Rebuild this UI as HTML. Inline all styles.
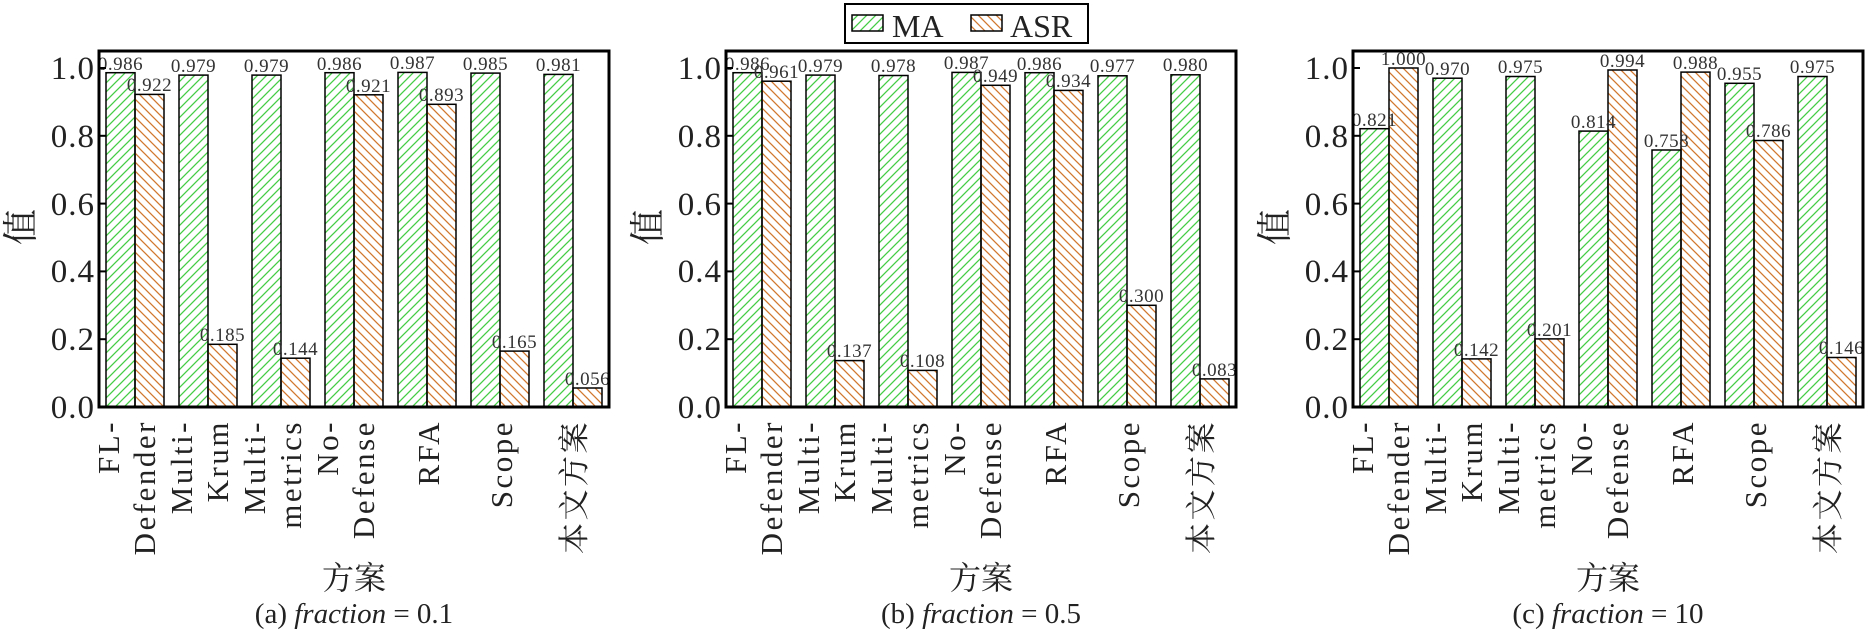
<!DOCTYPE html>
<html><head><meta charset="utf-8"><style>
html,body{margin:0;padding:0;background:#fff;}
svg{display:block;}
text{font-family:"Liberation Serif","Noto Serif CJK SC",serif;fill:#222;}
.v{font-size:19px;fill:#333;text-anchor:middle;letter-spacing:0.5px;}
.t{font-size:33px;text-anchor:end;letter-spacing:1px;}
.x{font-size:31px;text-anchor:end;letter-spacing:2.5px;}
.cj{font-family:"Liberation Serif","Noto Serif CJK SC",serif;}
</style></head><body>
<svg width="1871" height="630" viewBox="0 0 1871 630" xmlns="http://www.w3.org/2000/svg">
<defs>
<pattern id="g" patternUnits="userSpaceOnUse" width="9" height="9"><path d="M-1,1 l2,-2 M0,9 l9,-9 M8,10 l2,-2" stroke="#44cc44" stroke-width="1.3"/></pattern>
<pattern id="o" patternUnits="userSpaceOnUse" width="9" height="9"><path d="M-1,8 l2,2 M0,0 l9,9 M8,-1 l2,2" stroke="#d2782f" stroke-width="1.3"/></pattern>
<g id="ax">
<g stroke="#000" stroke-width="2"><line x1="0" y1="407" x2="7" y2="407"/><line x1="0" y1="339.2" x2="7" y2="339.2"/><line x1="0" y1="271.4" x2="7" y2="271.4"/><line x1="0" y1="203.6" x2="7" y2="203.6"/><line x1="0" y1="135.8" x2="7" y2="135.8"/><line x1="0" y1="68" x2="7" y2="68"/></g>
<text class="t" x="-4" y="418">0.0</text><text class="t" x="-4" y="350">0.2</text><text class="t" x="-4" y="282">0.4</text><text class="t" x="-4" y="215">0.6</text><text class="t" x="-4" y="147">0.8</text><text class="t" x="-4" y="79">1.0</text>
<text class="cj" font-size="36" transform="translate(-66,227) rotate(-90)" text-anchor="middle">值</text>
<text class="x" transform="translate(20,420) rotate(-90)">FL-</text><text class="x" transform="translate(56,420) rotate(-90)">Defender</text>
<text class="x" transform="translate(93,420) rotate(-90)">Multi-</text><text class="x" transform="translate(129,420) rotate(-90)">Krum</text>
<text class="x" transform="translate(166,420) rotate(-90)">Multi-</text><text class="x" transform="translate(202,420) rotate(-90)">metrics</text>
<text class="x" transform="translate(239,420) rotate(-90)">No-</text><text class="x" transform="translate(275,420) rotate(-90)">Defense</text>
<text class="x" transform="translate(340,420) rotate(-90)">RFA</text>
<text class="x" transform="translate(413,420) rotate(-90)">Scope</text>
<text class="x cj" transform="translate(486,420) rotate(-90)">本文方案</text>
<text class="cj" font-size="32" x="255" y="589" text-anchor="middle">方案</text>
</g>
</defs>

<!-- legend -->
<rect x="845" y="4" width="243" height="39" fill="#fff" stroke="#000" stroke-width="2"/>
<rect x="852" y="15" width="31" height="16" fill="url(#g)" stroke="#000" stroke-width="1.5"/>
<text x="892" y="37" font-size="32">MA</text>
<rect x="971" y="15" width="31" height="16" fill="url(#o)" stroke="#000" stroke-width="1.5"/>
<text x="1010" y="37" font-size="32">ASR</text>

<!-- panel a -->
<g transform="translate(99,0)">
<g stroke="#000" stroke-width="1.5">
<rect x="7" y="72.7" width="29" height="334.3" fill="url(#g)"/><rect x="36" y="94.4" width="29" height="312.6" fill="url(#o)"/>
<rect x="80" y="75.1" width="29" height="331.9" fill="url(#g)"/><rect x="109" y="344.3" width="29" height="62.7" fill="url(#o)"/>
<rect x="153" y="75.1" width="29" height="331.9" fill="url(#g)"/><rect x="182" y="358.2" width="29" height="48.8" fill="url(#o)"/>
<rect x="226" y="72.7" width="29" height="334.3" fill="url(#g)"/><rect x="255" y="94.8" width="29" height="312.2" fill="url(#o)"/>
<rect x="299" y="72.4" width="29" height="334.6" fill="url(#g)"/><rect x="328" y="104.3" width="29" height="302.7" fill="url(#o)"/>
<rect x="372" y="73.1" width="29" height="333.9" fill="url(#g)"/><rect x="401" y="351.1" width="29" height="55.9" fill="url(#o)"/>
<rect x="445" y="74.4" width="29" height="332.6" fill="url(#g)"/><rect x="474" y="388" width="29" height="19" fill="url(#o)"/>
</g>
<text class="v" x="21.5" y="70">0.986</text><text class="v" x="50.5" y="91">0.922</text>
<text class="v" x="94.5" y="72">0.979</text><text class="v" x="123.5" y="341">0.185</text>
<text class="v" x="167.5" y="72">0.979</text><text class="v" x="196.5" y="355">0.144</text>
<text class="v" x="240.5" y="70">0.986</text><text class="v" x="269.5" y="92">0.921</text>
<text class="v" x="313.5" y="69">0.987</text><text class="v" x="342.5" y="101">0.893</text>
<text class="v" x="386.5" y="70">0.985</text><text class="v" x="415.5" y="348">0.165</text>
<text class="v" x="459.5" y="71">0.981</text><text class="v" x="488.5" y="385">0.056</text>
<rect x="0" y="51" width="510" height="356" fill="none" stroke="#000" stroke-width="3"/>
<use href="#ax"/>
<text x="255" y="623" font-size="29" text-anchor="middle">(a) <tspan font-style="italic">fraction</tspan> = 0.1</text>
</g>

<!-- panel b -->
<g transform="translate(726,0)">
<g stroke="#000" stroke-width="1.5">
<rect x="7" y="72.7" width="29" height="334.3" fill="url(#g)"/><rect x="36" y="81.2" width="29" height="325.8" fill="url(#o)"/>
<rect x="80" y="75.1" width="29" height="331.9" fill="url(#g)"/><rect x="109" y="360.6" width="29" height="46.4" fill="url(#o)"/>
<rect x="153" y="75.5" width="29" height="331.5" fill="url(#g)"/><rect x="182" y="370.4" width="29" height="36.6" fill="url(#o)"/>
<rect x="226" y="72.4" width="29" height="334.6" fill="url(#g)"/><rect x="255" y="85.3" width="29" height="321.7" fill="url(#o)"/>
<rect x="299" y="72.7" width="29" height="334.3" fill="url(#g)"/><rect x="328" y="90.4" width="29" height="316.6" fill="url(#o)"/>
<rect x="372" y="75.8" width="29" height="331.2" fill="url(#g)"/><rect x="401" y="305.3" width="29" height="101.7" fill="url(#o)"/>
<rect x="445" y="74.8" width="29" height="332.2" fill="url(#g)"/><rect x="474" y="378.9" width="29" height="28.1" fill="url(#o)"/>
</g>
<text class="v" x="21.5" y="70">0.986</text><text class="v" x="50.5" y="78">0.961</text>
<text class="v" x="94.5" y="72">0.979</text><text class="v" x="123.5" y="357">0.137</text>
<text class="v" x="167.5" y="72">0.978</text><text class="v" x="196.5" y="367">0.108</text>
<text class="v" x="240.5" y="69">0.987</text><text class="v" x="269.5" y="82">0.949</text>
<text class="v" x="313.5" y="70">0.986</text><text class="v" x="342.5" y="87">0.934</text>
<text class="v" x="386.5" y="72">0.977</text><text class="v" x="415.5" y="302">0.300</text>
<text class="v" x="459.5" y="71">0.980</text><text class="v" x="488.5" y="376">0.083</text>
<rect x="0" y="51" width="510" height="356" fill="none" stroke="#000" stroke-width="3"/>
<use href="#ax"/>
<text x="255" y="623" font-size="29" text-anchor="middle">(b) <tspan font-style="italic">fraction</tspan> = 0.5</text>
</g>

<!-- panel c -->
<g transform="translate(1353,0)">
<g stroke="#000" stroke-width="1.5">
<rect x="7" y="128.7" width="29" height="278.3" fill="url(#g)"/><rect x="36" y="68" width="29" height="339" fill="url(#o)"/>
<rect x="80" y="78.2" width="29" height="328.8" fill="url(#g)"/><rect x="109" y="358.9" width="29" height="48.1" fill="url(#o)"/>
<rect x="153" y="76.5" width="29" height="330.5" fill="url(#g)"/><rect x="182" y="338.9" width="29" height="68.1" fill="url(#o)"/>
<rect x="226" y="131.1" width="29" height="275.9" fill="url(#g)"/><rect x="255" y="70" width="29" height="337" fill="url(#o)"/>
<rect x="299" y="150" width="29" height="257" fill="url(#g)"/><rect x="328" y="72.1" width="29" height="334.9" fill="url(#o)"/>
<rect x="372" y="83.3" width="29" height="323.7" fill="url(#g)"/><rect x="401" y="140.5" width="29" height="266.5" fill="url(#o)"/>
<rect x="445" y="76.5" width="29" height="330.5" fill="url(#g)"/><rect x="474" y="357.5" width="29" height="49.5" fill="url(#o)"/>
</g>
<text class="v" x="21.5" y="126">0.821</text><text class="v" x="50.5" y="65">1.000</text>
<text class="v" x="94.5" y="75">0.970</text><text class="v" x="123.5" y="356">0.142</text>
<text class="v" x="167.5" y="73">0.975</text><text class="v" x="196.5" y="336">0.201</text>
<text class="v" x="240.5" y="128">0.814</text><text class="v" x="269.5" y="67">0.994</text>
<text class="v" x="313.5" y="147">0.758</text><text class="v" x="342.5" y="69">0.988</text>
<text class="v" x="386.5" y="80">0.955</text><text class="v" x="415.5" y="137">0.786</text>
<text class="v" x="459.5" y="73">0.975</text><text class="v" x="488.5" y="354">0.146</text>
<rect x="0" y="51" width="510" height="356" fill="none" stroke="#000" stroke-width="3"/>
<use href="#ax"/>
<text x="255" y="623" font-size="29" text-anchor="middle">(c) <tspan font-style="italic">fraction</tspan> = 10</text>
</g>
</svg>
</body></html>
